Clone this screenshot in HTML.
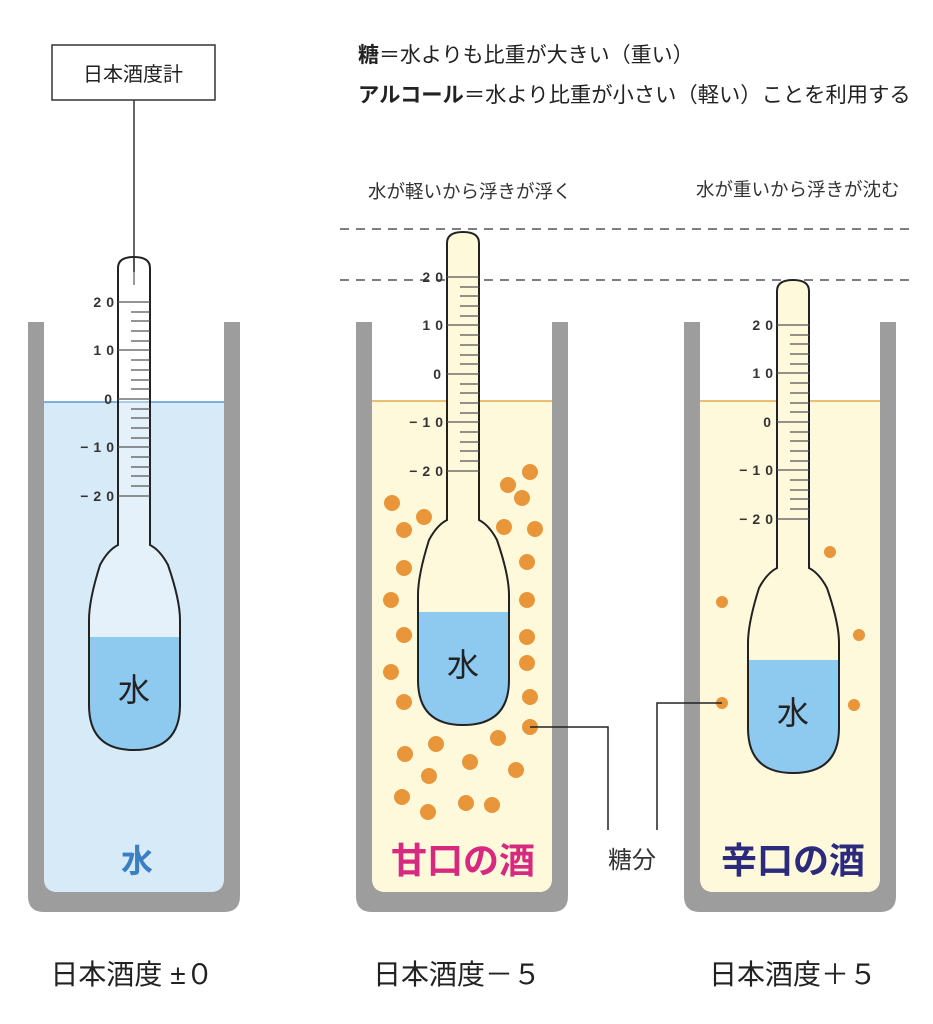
<!DOCTYPE html>
<html><head><meta charset="utf-8"><style>
html,body{margin:0;padding:0;background:#fff}
svg{display:block}
text{font-family:"Liberation Sans","Noto Sans CJK JP",sans-serif}
</style></head><body>
<svg width="933" height="1024" viewBox="0 0 933 1024" xmlns="http://www.w3.org/2000/svg">
<defs>
<path id="hy" d="M118,545 L118,268 Q118,257 134,257 Q150,257 150,268 L150,545 Q160,550 168,565 Q180,600 180,620 L180,705 Q180,750 134,750 Q89,750 89,705 L89,620 Q89,600 100,565 Q108,550 118,545 Z"/>
<clipPath id="hc"><use href="#hy"/></clipPath>
<g id="scale" stroke="#555" stroke-width="1.2">
<line x1="118" y1="302" x2="150" y2="302"/><line x1="118" y1="350" x2="150" y2="350"/><line x1="118" y1="399" x2="150" y2="399"/><line x1="118" y1="447" x2="150" y2="447"/><line x1="118" y1="496" x2="150" y2="496"/>
<path d="M131,312H150M131,321H150M131,331H150M131,341H150M131,360H150M131,370H150M131,380H150M131,389H150M131,409H150M131,418H150M131,428H150M131,438H150M131,457H150M131,467H150M131,476H150M131,486H150"/>
</g>
<g id="lbl" font-size="14" font-weight="bold" fill="#333" letter-spacing="5" text-anchor="end">
<text x="119" y="307">20</text><text x="119" y="355">10</text><text x="117" y="404">0</text><text x="119" y="452">−10</text><text x="119" y="501">−20</text>
</g>
</defs>

<!-- header -->
<rect x="52" y="45" width="163" height="55" fill="#fff" stroke="#333" stroke-width="1.5"/>
<text x="133" y="81" font-size="20" text-anchor="middle" fill="#222">日本酒度計</text>
<text x="358" y="62" font-size="21" fill="#222"><tspan font-weight="bold">糖</tspan>＝水よりも比重が大きい（重い）</text>
<text x="358" y="102" font-size="21.3" fill="#222"><tspan font-weight="bold">アルコール</tspan>＝水より比重が小さい（軽い）ことを利用する</text>
<text x="368" y="198" font-size="18.5" fill="#333">水が軽いから浮きが浮く</text>
<text x="696" y="196" font-size="18.5" fill="#333">水が重いから浮きが沈む</text>
<line x1="340" y1="229" x2="910" y2="229" stroke="#555" stroke-width="1.5" stroke-dasharray="9,7"/>
<line x1="340" y1="280" x2="910" y2="280" stroke="#555" stroke-width="1.5" stroke-dasharray="9,7"/>

<!-- containers -->
<g>
<path d="M28,322 H44 V878 Q44,892 58,892 H210 Q224,892 224,878 V322 H240 V896 Q240,912 224,912 H44 Q28,912 28,896 Z" fill="#9d9d9d"/>
<path d="M44,402 H224 V878 Q224,892 210,892 H58 Q44,892 44,878 Z" fill="#d7eaf8"/>
<line x1="44" y1="402" x2="224" y2="402" stroke="#5a9bd0" stroke-width="1.5"/>
</g>
<g transform="translate(328,0)">
<path d="M28,322 H44 V878 Q44,892 58,892 H210 Q224,892 224,878 V322 H240 V896 Q240,912 224,912 H44 Q28,912 28,896 Z" fill="#9d9d9d"/>
<path d="M44,401 H224 V878 Q224,892 210,892 H58 Q44,892 44,878 Z" fill="#fff9dc"/>
<line x1="44" y1="401" x2="224" y2="401" stroke="#e8a94a" stroke-width="1.5"/>
</g>
<g transform="translate(656,0)">
<path d="M28,322 H44 V878 Q44,892 58,892 H210 Q224,892 224,878 V322 H240 V896 Q240,912 224,912 H44 Q28,912 28,896 Z" fill="#9d9d9d"/>
<path d="M44,401 H224 V878 Q224,892 210,892 H58 Q44,892 44,878 Z" fill="#fff9dc"/>
<line x1="44" y1="401" x2="224" y2="401" stroke="#e8a94a" stroke-width="1.5"/>
</g>

<!-- dots -->
<g fill="#e9963a">
<circle cx="530" cy="472" r="8"/><circle cx="508" cy="485" r="8"/><circle cx="392" cy="503" r="8"/><circle cx="522" cy="498" r="8"/><circle cx="424" cy="517" r="8"/><circle cx="404" cy="530" r="8"/><circle cx="504" cy="527" r="8"/><circle cx="535" cy="529" r="8"/><circle cx="404" cy="568" r="8"/><circle cx="527" cy="562" r="8"/><circle cx="391" cy="600" r="8"/><circle cx="527" cy="600" r="8"/><circle cx="404" cy="635" r="8"/><circle cx="527" cy="637" r="8"/><circle cx="391" cy="672" r="8"/><circle cx="527" cy="663" r="8"/><circle cx="404" cy="702" r="8"/><circle cx="530" cy="697" r="8"/><circle cx="530" cy="727" r="8"/><circle cx="498" cy="738" r="8"/><circle cx="436" cy="744" r="8"/><circle cx="405" cy="754" r="8"/><circle cx="470" cy="762" r="8"/><circle cx="516" cy="770" r="8"/><circle cx="429" cy="776" r="8"/><circle cx="402" cy="797" r="8"/><circle cx="466" cy="803" r="8"/><circle cx="428" cy="812" r="8"/><circle cx="492" cy="805" r="8"/>
<circle cx="830" cy="552" r="6"/><circle cx="722" cy="602" r="6"/><circle cx="859" cy="635" r="6"/><circle cx="722" cy="703" r="6"/><circle cx="854" cy="705" r="6"/>
</g>

<!-- pointer line -->
<line x1="134" y1="100" x2="134" y2="285" stroke="#333" stroke-width="1.5"/>

<!-- hydrometers -->
<g>
<use href="#hy" fill="#fff" fill-opacity="0.35"/>
<rect x="80" y="637" width="110" height="120" fill="#8ec9ef" clip-path="url(#hc)"/>
<use href="#hy" fill="none" stroke="#222" stroke-width="2"/>
<use href="#scale"/><use href="#lbl"/>
<text x="134" y="701" font-size="32" text-anchor="middle" fill="#222">水</text>
</g>
<line x1="134" y1="257" x2="134" y2="272" stroke="#333" stroke-width="1.5"/>
<g transform="translate(329,-25)">
<use href="#hy" fill="#fff9dc"/>
<rect x="80" y="637" width="110" height="120" fill="#8ec9ef" clip-path="url(#hc)"/>
<use href="#hy" fill="none" stroke="#222" stroke-width="2"/>
<use href="#scale"/><use href="#lbl"/>
<text x="134" y="701" font-size="32" text-anchor="middle" fill="#222">水</text>
</g>
<g transform="translate(659,23)">
<use href="#hy" fill="#fff9dc"/>
<rect x="80" y="637" width="110" height="120" fill="#8ec9ef" clip-path="url(#hc)"/>
<use href="#hy" fill="none" stroke="#222" stroke-width="2"/>
<use href="#scale"/><use href="#lbl"/>
<text x="134" y="701" font-size="32" text-anchor="middle" fill="#222">水</text>
</g>

<!-- sugar connectors -->
<path d="M530,727 H608 V830" fill="none" stroke="#222" stroke-width="1.5"/>
<path d="M722,703 H657 V830" fill="none" stroke="#222" stroke-width="1.5"/>
<text x="632" y="868" font-size="24" text-anchor="middle" fill="#333">糖分</text>

<!-- container labels -->
<text x="137" y="872" font-size="32" font-weight="bold" text-anchor="middle" fill="#3a7ec4">水</text>
<text x="463" y="873" font-size="36" font-weight="bold" text-anchor="middle" fill="#d6297f">甘口の酒</text>
<text x="793" y="873" font-size="36" font-weight="bold" text-anchor="middle" fill="#2b2a7c">辛口の酒</text>

<text x="132" y="984" font-size="28" text-anchor="middle" fill="#222">日本酒度 ±０</text>
<text x="457" y="984" font-size="28" text-anchor="middle" fill="#222">日本酒度－５</text>
<text x="793" y="984" font-size="28" text-anchor="middle" fill="#222">日本酒度＋５</text>
</svg>
</body></html>
